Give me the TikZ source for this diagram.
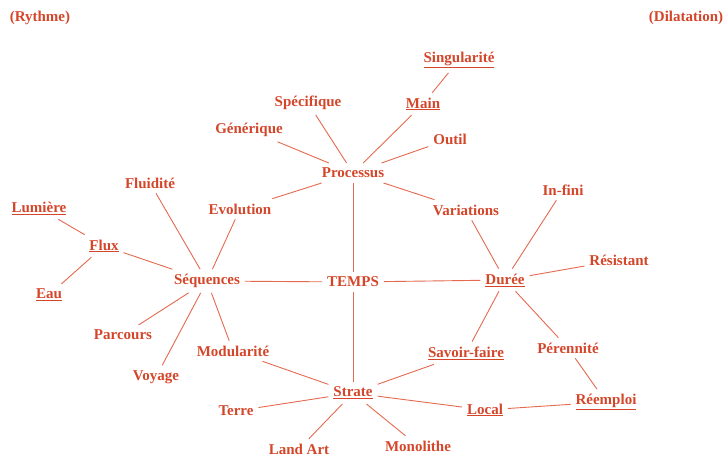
\documentclass[tikz,border=0pt]{standalone}
\usepackage{fontspec}
\setmainfont{Liberation Serif}
\usepackage{tikz}
\usetikzlibrary{calc}
\definecolor{motrouge}{RGB}{212,70,42}
\definecolor{lienrouge}{RGB}{228,105,78}
\newcommand{\souligne}[1]{\underline{#1}}

\begin{document}
\begin{tikzpicture}
		[x=1pt, y=-1pt,
		mot/.style = {text=motrouge, font=\fontsize{15}{17}\selectfont\bfseries, inner sep=2pt, outer sep=3pt},
		lien/.style = {draw=lienrouge, line width=0.9pt}
		]
		\useasboundingbox (0,0) rectangle (728,457);

		% coins
		\node[mot] (rythme) at (40,18) {(Rythme)};
		\node[mot] (dilatation) at (686,18) {(Dilatation)};

		% centre
		\node[mot] (temps) at (353,282) {TEMPS};
		\node[mot] (processus) at (353,173) {Processus};
		\node[mot] (sequences) at (207,281) {Séquences};
		\node[mot] (duree) at (505,280) {\souligne{Durée}};
		\node[mot] (strate) at (353,393) {\souligne{Strate}};

		% autour de Processus
		\node[mot] (singularite) at (459,60) {\souligne{Singularité}};
		\node[mot] (main) at (423,104) {\souligne{Main}};
		\node[mot] (specifique) at (308,103) {Spécifique};
		\node[mot] (generique) at (249,130) {Générique};
		\node[mot] (outil) at (450,139) {Outil};
		\node[mot] (evolution) at (240,209) {Evolution};
		\node[mot] (variations) at (466,210) {Variations};

		% autour de Séquences
		\node[mot] (fluidite) at (150,183) {Fluidité};
		\node[mot] (lumiere) at (39,208) {\souligne{Lumière}};
		\node[mot] (flux) at (104,246) {\souligne{Flux}};
		\node[mot] (eau) at (49,295) {\souligne{Eau}};
		\node[mot] (parcours) at (123,335) {Parcours};
		\node[mot] (voyage) at (156,377) {Voyage};
		\node[mot] (modularite) at (233,351) {Modularité};

		% autour de Durée
		\node[mot] (infini) at (563,190) {In-fini};
		\node[mot] (resistant) at (619,260) {Résistant};
		\node[mot] (perennite) at (568,348) {Pérennité};
		\node[mot] (savoirfaire) at (466,353) {\souligne{Savoir-faire}};
		\node[mot] (reemploi) at (606,402) {\souligne{Réemploi}};

		% autour de Strate
		\node[mot] (local) at (485,410) {\souligne{Local}};
		\node[mot] (terre) at (236,411) {Terre};
		\node[mot] (landart) at (299,449) {Land Art};
		\node[mot] (monolithe) at (418,446) {Monolithe};

		% liens
		\foreach \a/\b in {processus/generique, processus/specifique, processus/main,
			processus/outil, processus/evolution, processus/variations, processus/temps,
			main/singularite,
			sequences/evolution, sequences/fluidite, sequences/flux, sequences/parcours,
			sequences/voyage, sequences/modularite, sequences/temps,
			flux/lumiere, flux/eau,
			temps/duree, temps/strate,
			duree/variations, duree/infini, duree/resistant, duree/perennite, duree/savoirfaire,
			perennite/reemploi, reemploi/local, local/strate,
			strate/modularite, strate/savoirfaire, strate/terre, strate/landart, strate/monolithe}
			\draw[lien] (\a) -- (\b);
\end{tikzpicture}
\end{document}
